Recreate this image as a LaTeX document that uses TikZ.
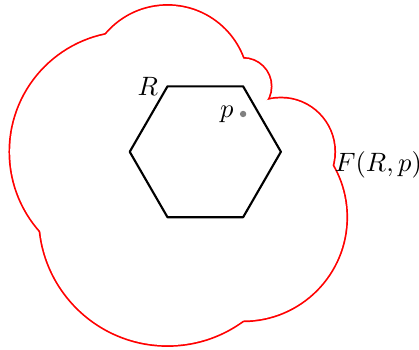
\documentclass[tikz,border=0pt]{standalone}
\usepackage{amsmath,amssymb}
\usetikzlibrary{calc}

\begin{document}
\begin{tikzpicture}[
  every node/.style={font=\normalsize},
  hexedge/.style={line width=0.8pt, line join=round},
  farline/.style={red, line width=1.3pt},
  ptdot/.style={circle, fill=gray, inner sep=0pt, minimum size=2.4pt}
]
\useasboundingbox (-2.716,-2.622) rectangle (2.827,2.008);

% Hexagon R and the point p.
\foreach \a in {0,60,...,300}
  \coordinate (v\a) at (\a:1);
\coordinate (pc) at (0.5,0.5);

% F(R,p): union of the vertex disks through p, outline only.
\foreach \a in {0,60,...,300}
  \draw[farline] let \p1=($(v\a)-(pc)$), \n1={veclen(\x1,\y1)} in
    (v\a) circle (\n1);
\foreach \a in {0,60,...,300}
  \fill[white] let \p1=($(v\a)-(pc)$), \n1={veclen(\x1,\y1)} in
    (v\a) circle (\n1);

\draw[hexedge] (v0) -- (v60) -- (v120) -- (v180) -- (v240) -- (v300) -- cycle;
\node[ptdot] (p) at (pc) {};
\node[left] (Rlab) at (v120) {\(R\)};
\node[left, inner sep=2pt] (plab) at (p.west) {\(p\)};
\coordinate (cusp) at (1.689,-0.175);
\node[right, inner sep=0.5pt] (Flab) at (cusp) {\(F(R,p)\)};
\end{tikzpicture}
\end{document}
